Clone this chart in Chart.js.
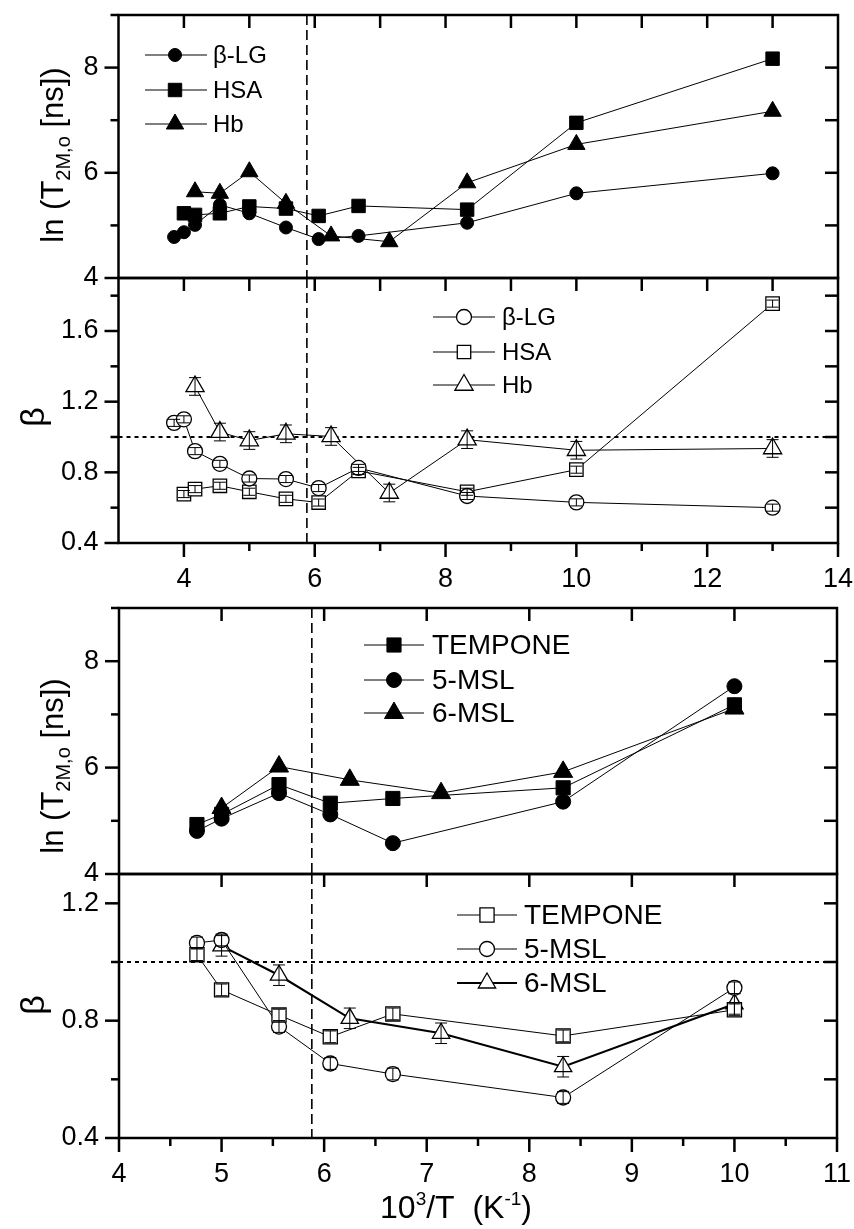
<!DOCTYPE html>
<html><head><meta charset="utf-8">
<script src="https://cdn.jsdelivr.net/npm/chart.js@4.4.1/dist/chart.umd.min.js"></script>
<style>
html,body{margin:0;padding:0;background:#fff;}
#wrap{position:relative;width:854px;height:1229px;background:#fff;}
#wrap canvas{position:absolute;left:0;top:0;width:854px;height:1229px;}
</style></head><body>
<div id="wrap">
<canvas id="c1" width="854" height="1229"></canvas>
<canvas id="c2" width="854" height="1229"></canvas>
<canvas id="c3" width="854" height="1229"></canvas>
<canvas id="c4" width="854" height="1229"></canvas>
</div>
<script>
// ---------- DATA: proteins (upper two panels) ----------
const xBLG = [3.85, 4.00, 4.17, 4.55, 5.00, 5.56, 6.06, 6.67, 8.33, 10.0, 13.0];
const xHSA = [4.00, 4.17, 4.55, 5.00, 5.56, 6.06, 6.67, 8.33, 10.0, 13.0];
const xHb  = [4.17, 4.55, 5.00, 5.56, 6.25, 7.14, 8.33, 10.0, 13.0];
const lnT_BLG = [4.78, 4.87, 5.01, 5.39, 5.23, 4.96, 4.74, 4.80, 5.05, 5.61, 5.99];
const lnT_HSA = [5.23, 5.20, 5.23, 5.36, 5.32, 5.18, 5.37, 5.30, 6.95, 8.17];
const lnT_Hb  = [5.64, 5.61, 6.02, 5.42, 4.80, 4.69, 5.81, 6.54, 7.17];
const beta_BLG = [1.080, 1.100, 0.920, 0.848, 0.765, 0.762, 0.711, 0.825, 0.666, 0.630, 0.600];
const beta_HSA = [0.677, 0.705, 0.724, 0.690, 0.650, 0.629, 0.808, 0.690, 0.815, 1.755];
const beta_Hb  = [1.286, 1.028, 0.980, 1.018, 1.003, 0.683, 0.985, 0.925, 0.935];
const err_BLG = [0.02, 0.02, 0.02, 0.02, 0.02, 0.02, 0.02, 0.02, 0.02, 0.02, 0.02];
const err_HSA = [0.02, 0.02, 0.02, 0.02, 0.02, 0.02, 0.02, 0.02, 0.02, 0.02];
const err_Hb  = [0.05, 0.05, 0.05, 0.05, 0.05, 0.05, 0.05, 0.05, 0.05];

// ---------- DATA: spin labels (lower two panels) ----------
const xTEMPONE = [4.76, 5.00, 5.56, 6.06, 6.67, 8.33, 10.0];
const xMSL5    = [4.76, 5.00, 5.56, 6.06, 6.67, 8.33, 10.0];
const xMSL6    = [5.00, 5.56, 6.25, 7.14, 8.33, 10.0];
const lnT_TEMPONE = [4.93, 5.12, 5.68, 5.33, 5.42, 5.62, 7.18];
const lnT_MSL5    = [4.81, 5.04, 5.52, 5.12, 4.58, 5.36, 7.53];
const lnT_MSL6    = [5.24, 6.02, 5.77, 5.52, 5.92, 7.11];
const beta_TEMPONE = [1.025, 0.905, 0.819, 0.745, 0.823, 0.748, 0.837];
const beta_MSL5    = [1.065, 1.075, 0.780, 0.654, 0.618, 0.538, 0.912];
const beta_MSL6    = [1.055, 0.955, 0.808, 0.757, 0.643, 0.857];
const err_TEMPONE = [0.02, 0.02, 0.02, 0.02, 0.02, 0.02, 0.02];
const err_MSL5    = [0.02, 0.02, 0.02, 0.02, 0.02, 0.02, 0.02];
const err_MSL6    = [0.035, 0.035, 0.035, 0.035, 0.035, 0.035];

// ---------- tick labels / reference lines ----------
const topXLabels = [4, 6, 8, 10, 12, 14];
const topXMinor  = [5, 7, 9, 11, 13];
const topXEvery  = [4, 5, 6, 7, 8, 9, 10, 11, 12, 13];
const lnTLabels  = [4, 6, 8];
const lnTMinor   = [5, 7, 9];
const lnTEvery   = [5, 6, 7, 8];
const betaTopLabels = [0.4, 0.8, 1.2, 1.6];
const betaTopMinor  = [0.6, 1.0, 1.4, 1.8];
const betaTopEvery  = [0.6, 0.8, 1.0, 1.2, 1.4, 1.6, 1.8];
const botXLabels = [4, 5, 6, 7, 8, 9, 10, 11];
const botXMinor  = [4.5, 5.5, 6.5, 7.5, 8.5, 9.5, 10.5];
const botXEvery  = [5, 6, 7, 8, 9, 10];
const betaBotLabels = [0.4, 0.8, 1.2];
const betaBotMinor  = [0.6, 1.0];
const betaBotEvery  = [0.6, 0.8, 1.0, 1.2];
const dashedX = 5.88;
const dottedBeta = 1.0;

const FONT = "'Liberation Sans', Arial, 'Helvetica', sans-serif";

// ---------- plugins ----------
function marker(ctx, style, x, y, r, filled, bw) {
  ctx.save();
  ctx.fillStyle = filled ? '#000' : '#fff';
  ctx.strokeStyle = '#000';
  ctx.lineWidth = bw;
  ctx.beginPath();
  if (style === 'circle') {
    ctx.arc(x, y, r, 0, Math.PI * 2);
  } else if (style === 'rect') {
    const s = Math.SQRT1_2 * r;
    ctx.rect(x - s, y - s, 2 * s, 2 * s);
  } else if (style === 'triangle') {
    ctx.moveTo(x, y - r);
    ctx.lineTo(x + 0.866 * r, y + 0.5 * r);
    ctx.lineTo(x - 0.866 * r, y + 0.5 * r);
    ctx.closePath();
  }
  ctx.fill();
  ctx.stroke();
  ctx.restore();
}

const framePlugin = {
  id: 'frame',
  afterDraw(chart, args, o) {
    const {ctx, chartArea: a, scales: {x, y}} = chart;
    ctx.save();
    ctx.strokeStyle = '#000';
    ctx.lineWidth = 2.5;
    const seg = (x1, y1, x2, y2) => { ctx.beginPath(); ctx.moveTo(x1, y1); ctx.lineTo(x2, y2); ctx.stroke(); };
    (o.top || []).forEach(v => { const p = x.getPixelForValue(v); seg(p, a.top, p, a.top + 13); });
    (o.bottomMajor || []).forEach(v => { const p = x.getPixelForValue(v); seg(p, a.bottom, p, a.bottom + 14); });
    (o.bottomMinor || []).forEach(v => { const p = x.getPixelForValue(v); seg(p, a.bottom, p, a.bottom + 8); });
    (o.leftMajor || []).forEach(v => { const p = y.getPixelForValue(v); seg(a.left - 14, p, a.left, p); });
    (o.leftMinor || []).forEach(v => { const p = y.getPixelForValue(v); seg(a.left - 8, p, a.left, p); });
    (o.right || []).forEach(v => { const p = y.getPixelForValue(v); seg(a.right - 13, p, a.right, p); });
    ctx.lineWidth = 2.5;
    ctx.strokeRect(a.left, a.top, a.right - a.left, a.bottom - a.top);
    ctx.restore();
  }
};

const refPlugin = {
  id: 'refLines',
  beforeDatasetsDraw(chart, args, o) {
    const {ctx, chartArea: a, scales: {x, y}} = chart;
    ctx.save();
    ctx.strokeStyle = '#000';
    if (o.vx != null) {
      const p = x.getPixelForValue(o.vx);
      ctx.lineWidth = 1.6;
      ctx.setLineDash([10, 5]);
      ctx.beginPath(); ctx.moveTo(p, a.top); ctx.lineTo(p, a.bottom); ctx.stroke();
    }
    if (o.hy != null) {
      const p = y.getPixelForValue(o.hy);
      ctx.lineWidth = 2;
      ctx.setLineDash([4, 4]);
      ctx.beginPath(); ctx.moveTo(a.left, p); ctx.lineTo(a.right, p); ctx.stroke();
    }
    ctx.restore();
  }
};

const errPlugin = {
  id: 'errBars',
  afterDatasetsDraw(chart) {
    const {ctx, scales: {y}} = chart;
    ctx.save();
    ctx.strokeStyle = '#000';
    ctx.lineWidth = 1;
    chart.data.datasets.forEach((ds, i) => {
      if (!ds.err) return;
      const meta = chart.getDatasetMeta(i);
      meta.data.forEach((pt, j) => {
        const v = ds.data[j].y, e = ds.err[j];
        const y1 = y.getPixelForValue(v + e), y2 = y.getPixelForValue(v - e);
        const w = 6;
        ctx.beginPath();
        ctx.moveTo(pt.x, y1); ctx.lineTo(pt.x, y2);
        ctx.moveTo(pt.x - w, y1); ctx.lineTo(pt.x + w, y1);
        ctx.moveTo(pt.x - w, y2); ctx.lineTo(pt.x + w, y2);
        ctx.stroke();
      });
    });
    ctx.restore();
  }
};

const legendPlugin = {
  id: 'boxLegend',
  afterDraw(chart, args, o) {
    const {ctx} = chart;
    chart.data.datasets.forEach((ds, i) => {
      const yy = o.ys[i];
      ctx.save();
      ctx.strokeStyle = '#000';
      ctx.lineWidth = ds.borderWidth;
      ctx.beginPath(); ctx.moveTo(o.x1, yy); ctx.lineTo(o.x2, yy); ctx.stroke();
      ctx.restore();
      marker(ctx, ds.pointStyle, o.mx, yy, ds.pointRadius, ds.pointBackgroundColor === '#000', ds.pointBorderWidth);
      ctx.save();
      ctx.fillStyle = '#000';
      ctx.font = o.size + 'px ' + FONT;
      ctx.textBaseline = 'middle';
      ctx.textAlign = 'left';
      ctx.fillText(ds.label, o.tx, yy + 1);
      ctx.restore();
    });
  }
};

const textPlugin = {
  id: 'richTitle',
  afterDraw(chart, args, o) {
    const {ctx} = chart;
    (o.items || []).forEach(it => {
      ctx.save();
      ctx.fillStyle = '#000';
      ctx.textBaseline = 'alphabetic';
      ctx.textAlign = 'left';
      let total = 0;
      it.parts.forEach(p => { ctx.font = p.size + 'px ' + FONT; total += ctx.measureText(p.t).width; });
      ctx.translate(it.x, it.y);
      if (it.rotate) ctx.rotate(-Math.PI / 2);
      let cx = -total / 2;
      it.parts.forEach(p => {
        ctx.font = p.size + 'px ' + FONT;
        ctx.fillText(p.t, cx, p.dy || 0);
        cx += ctx.measureText(p.t).width;
      });
      ctx.restore();
    });
  }
};

// ---------- helpers ----------
function ds(label, xs, ys, style, filled, r, extra) {
  return Object.assign({
    label,
    data: xs.map((x, i) => ({x, y: ys[i]})),
    borderColor: '#000', borderWidth: 1,
    pointStyle: style, pointRadius: r, pointHoverRadius: r,
    pointBackgroundColor: filled ? '#000' : '#fff',
    pointBorderColor: '#000', pointBorderWidth: filled ? 1 : 1.3,
    tension: 0, fill: false
  }, extra || {});
}
const near = (arr, v) => arr.some(a => Math.abs(a - v) < 1e-6);

function makeChart(id, cfg) {
  return new Chart(document.getElementById(id), {
    type: 'line',
    data: {datasets: cfg.datasets},
    plugins: [refPlugin, errPlugin, framePlugin, legendPlugin, textPlugin],
    options: {
      responsive: false, animation: false, devicePixelRatio: 1,
      layout: {padding: cfg.padding},
      plugins: {
        legend: {display: false}, tooltip: {enabled: false},
        frame: cfg.frame, refLines: cfg.ref, boxLegend: cfg.legend, richTitle: {items: cfg.titles}
      },
      scales: {
        x: {
          type: 'linear', position: 'bottom', min: cfg.xmin, max: cfg.xmax,
          grid: {display: false, drawTicks: false}, border: {display: false},
          ticks: {display: cfg.showX, stepSize: cfg.xstep, autoSkip: false, maxRotation: 0,
            padding: 20, color: '#000', font: {family: FONT, size: 27},
            callback: v => near(cfg.xLabels, v) ? String(Math.round(v)) : ''},
          afterFit: s => { s.height = 60; s.paddingLeft = 0; s.paddingRight = 0; s.paddingTop = 0; s.paddingBottom = 0; }
        },
        y: {
          type: 'linear', position: 'left', min: cfg.ymin, max: cfg.ymax,
          grid: {display: false, drawTicks: false}, border: {display: false},
          ticks: {stepSize: cfg.ystep, autoSkip: false, padding: 20, color: '#000',
            font: {family: FONT, size: 27},
            callback: v => near(cfg.yLabels, v) ? (cfg.ydec ? v.toFixed(1) : String(Math.round(v))) : ''},
          afterFit: s => { s.width = 100; s.paddingLeft = 0; s.paddingRight = 0; s.paddingTop = 0; s.paddingBottom = 0; }
        }
      }
    }
  });
}

const lnTitle = (cy) => ({rotate: true, x: 63, y: cy, parts: [
  {t: 'ln (T', size: 31}, {t: '2M,o', size: 20, dy: 7}, {t: ' [ns])', size: 31}]});
const betaTitle = (cy) => ({rotate: true, x: 44, y: cy, parts: [{t: 'β', size: 34}]});

// Panel 1
makeChart('c1', {
  datasets: [
    ds('β-LG', xBLG, lnT_BLG, 'circle', true, 6.5),
    ds('HSA', xHSA, lnT_HSA, 'rect', true, 9.5),
    ds('Hb', xHb, lnT_Hb, 'triangle', true, 10)
  ],
  padding: {left: 18.5, right: 16, top: 15, bottom: 891},
  xmin: 3, xmax: 14, xstep: 1, xLabels: topXLabels, showX: false,
  ymin: 4, ymax: 9, ystep: 1, yLabels: lnTLabels, ydec: false,
  frame: {top: topXEvery, leftMajor: lnTLabels, leftMinor: lnTMinor, right: lnTEvery},
  ref: {vx: dashedX},
  legend: {x1: 145, x2: 207, mx: 175, tx: 213, ys: [55, 90, 124], size: 24},
  titles: [lnTitle(155)]
});

// Panel 2
makeChart('c2', {
  datasets: [
    ds('β-LG', xBLG, beta_BLG, 'circle', false, 7.5, {err: err_BLG}),
    ds('HSA', xHSA, beta_HSA, 'rect', false, 9.5, {err: err_HSA}),
    ds('Hb', xHb, beta_Hb, 'triangle', false, 10.5, {err: err_Hb})
  ],
  padding: {left: 18.5, right: 16, top: 278, bottom: 626},
  xmin: 3, xmax: 14, xstep: 1, xLabels: topXLabels, showX: true,
  ymin: 0.4, ymax: 1.9, ystep: 0.2, yLabels: betaTopLabels, ydec: true,
  frame: {top: topXEvery, bottomMajor: topXLabels, bottomMinor: topXMinor,
          leftMajor: betaTopLabels, leftMinor: betaTopMinor, right: betaTopEvery},
  ref: {vx: dashedX, hy: dottedBeta},
  legend: {x1: 433, x2: 495, mx: 464, tx: 502, ys: [317, 352, 385], size: 24},
  titles: [betaTitle(417)]
});

// Panel 3
makeChart('c3', {
  datasets: [
    ds('TEMPONE', xTEMPONE, lnT_TEMPONE, 'rect', true, 10),
    ds('5-MSL', xMSL5, lnT_MSL5, 'circle', true, 7.5),
    ds('6-MSL', xMSL6, lnT_MSL6, 'triangle', true, 11)
  ],
  padding: {left: 19, right: 17, top: 608, bottom: 295},
  xmin: 4, xmax: 11, xstep: 0.5, xLabels: botXLabels, showX: false,
  ymin: 4, ymax: 9, ystep: 1, yLabels: lnTLabels, ydec: false,
  frame: {top: botXEvery, leftMajor: lnTLabels, leftMinor: lnTMinor, right: lnTEvery},
  ref: {vx: dashedX},
  legend: {x1: 364, x2: 424, mx: 394, tx: 432, ys: [645, 680, 713], size: 28},
  titles: [lnTitle(766)]
});

// Panel 4
makeChart('c4', {
  datasets: [
    ds('TEMPONE', xTEMPONE, beta_TEMPONE, 'rect', false, 10, {err: err_TEMPONE}),
    ds('5-MSL', xMSL5, beta_MSL5, 'circle', false, 7.5, {err: err_MSL5}),
    ds('6-MSL', xMSL6, beta_MSL6, 'triangle', false, 10, {err: err_MSL6, borderWidth: 2.2})
  ],
  padding: {left: 19, right: 17, top: 874, bottom: 31},
  xmin: 4, xmax: 11, xstep: 0.5, xLabels: botXLabels, showX: true,
  ymin: 0.4, ymax: 1.3, ystep: 0.2, yLabels: betaBotLabels, ydec: true,
  frame: {top: botXEvery, bottomMajor: botXLabels, bottomMinor: botXMinor,
          leftMajor: betaBotLabels, leftMinor: betaBotMinor, right: betaBotEvery},
  ref: {vx: dashedX, hy: dottedBeta},
  legend: {x1: 457, x2: 517, mx: 487, tx: 524, ys: [915, 949, 983], size: 28},
  titles: [betaTitle(1005),
    {rotate: false, x: 456, y: 1218, parts: [
      {t: '10', size: 32}, {t: '3', size: 19, dy: -13}, {t: '/T  (K', size: 32},
      {t: '-1', size: 19, dy: -13}, {t: ')', size: 32}]}]
});
</script>
</body></html>
